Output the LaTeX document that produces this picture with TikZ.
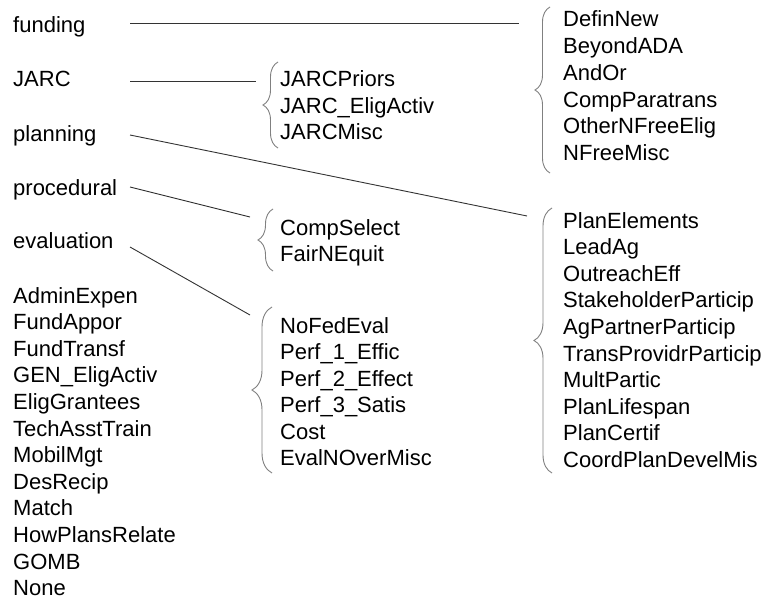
\documentclass[tikz,border=0pt]{standalone}
\usepackage{fontspec}
\setmainfont{Liberation Sans}
\usetikzlibrary{decorations.pathreplacing}
\begin{document}
\begin{tikzpicture}[x=1pt,y=-1pt,
  lbl/.style={anchor=base west,inner sep=0pt,font=\fontsize{22}{26}\selectfont},
  conn/.style={draw=black!80,line width=0.9pt},
  bracegrp/.style={draw=black!50,line width=0.9pt,decorate,decoration={brace,amplitude=15pt}}]
\useasboundingbox (0,0) rectangle (765,604);
% top-level categories
\node[lbl] (funding) at (13,33) {funding};
\node[lbl] (jarc) at (13,87) {JARC};
\node[lbl] (planning) at (13,142) {planning};
\node[lbl] (procedural) at (13,195) {procedural};
\node[lbl] (evaluation) at (13,248) {evaluation};
% left list
\node[lbl] (l1) at (13,303) {AdminExpen};
\node[lbl] (l2) at (13,329.6) {FundAppor};
\node[lbl] (l3) at (13,356.2) {FundTransf};
\node[lbl] (l4) at (13,382.8) {GEN\_EligActiv};
\node[lbl] (l5) at (13,409.4) {EligGrantees};
\node[lbl] (l6) at (13,436) {TechAsstTrain};
\node[lbl] (l7) at (13,462.6) {MobilMgt};
\node[lbl] (l8) at (13,489.2) {DesRecip};
\node[lbl] (l9) at (13,515.8) {Match};
\node[lbl] (l10) at (13,542.4) {HowPlansRelate};
\node[lbl] (l11) at (13,569) {GOMB};
\node[lbl] (l12) at (13,595.6) {None};
% JARC group
\node[lbl] (j1) at (280,87) {JARCPriors};
\node[lbl] (j2) at (280,113.5) {JARC\_EligActiv};
\node[lbl] (j3) at (280,140) {JARCMisc};
% procedural group
\node[lbl] (p1) at (280,235) {CompSelect};
\node[lbl] (p2) at (280,261.5) {FairNEquit};
% evaluation group
\node[lbl] (e1) at (280,333) {NoFedEval};
\node[lbl] (e2) at (280,359.5) {Perf\_1\_Effic};
\node[lbl] (e3) at (280,386) {Perf\_2\_Effect};
\node[lbl] (e4) at (280,412.5) {Perf\_3\_Satis};
\node[lbl] (e5) at (280,439) {Cost};
\node[lbl] (e6) at (280,465.5) {EvalNOverMisc};
% funding group
\node[lbl] (f1) at (563,27) {DefinNew};
\node[lbl] (f2) at (563,53.7) {BeyondADA};
\node[lbl] (f3) at (563,80.4) {AndOr};
\node[lbl] (f4) at (563,107.1) {CompParatrans};
\node[lbl] (f5) at (563,133.8) {OtherNFreeElig};
\node[lbl] (f6) at (563,160.5) {NFreeMisc};
% planning group
\node[lbl] (q1) at (563,228) {PlanElements};
\node[lbl] (q2) at (563,254.6) {LeadAg};
\node[lbl] (q3) at (563,281.2) {OutreachEff};
\node[lbl] (q4) at (563,307.8) {StakeholderParticip};
\node[lbl] (q5) at (563,334.4) {AgPartnerParticip};
\node[lbl] (q6) at (563,361) {TransProvidrParticip};
\node[lbl] (q7) at (563,387.6) {MultPartic};
\node[lbl] (q8) at (563,414.2) {PlanLifespan};
\node[lbl] (q9) at (563,440.8) {PlanCertif};
\node[lbl] (q10) at (563,467.4) {CoordPlanDevelMis};
% braces
\coordinate (bJt) at (278,62);   \coordinate (bJb) at (278,148);
\coordinate (bPt) at (273,209);  \coordinate (bPb) at (273,271);
\coordinate (bEt) at (272,307);  \coordinate (bEb) at (272,473);
\coordinate (bFt) at (550,7);    \coordinate (bFb) at (550,173);
\coordinate (bQt) at (552,208);  \coordinate (bQb) at (552,473);
\draw[bracegrp] (bJb) -- (bJt);
\draw[bracegrp] (bPb) -- (bPt);
\draw[bracegrp,decoration={amplitude=20pt}] (bEb) -- (bEt);
\draw[bracegrp] (bFb) -- (bFt);
\draw[bracegrp,decoration={amplitude=18pt}] (bQb) -- (bQt);
% connector ends
\coordinate (cFs) at (130,23);  \coordinate (cFe) at (519,23);
\coordinate (cJs) at (130,81);  \coordinate (cJe) at (256,81);
\coordinate (cPls) at (130,135); \coordinate (cPle) at (527,216);
\coordinate (cPrs) at (130,187); \coordinate (cPre) at (250,217);
\coordinate (cEs) at (130,247);  \coordinate (cEe) at (250,315);
\draw[conn] (cFs) -- (cFe);
\draw[conn] (cJs) -- (cJe);
\draw[conn] (cPls) -- (cPle);
\draw[conn] (cPrs) -- (cPre);
\draw[conn] (cEs) -- (cEe);
\end{tikzpicture}
\end{document}
